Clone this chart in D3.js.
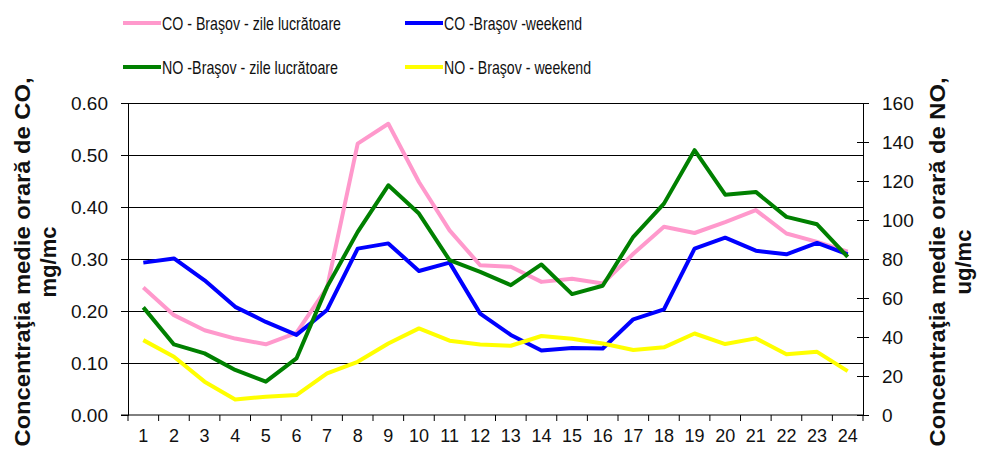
<!DOCTYPE html>
<html>
<head>
<meta charset="utf-8">
<script src="https://cdn.jsdelivr.net/npm/d3@7"></script>
<style>
  body { margin: 0; background: #fff; }
  text { font-family: "Liberation Sans", Arial, sans-serif; fill: #111; }
</style>
</head>
<body>
<div id="graph"></div>
<script>
// ore (1..24)
let hours = d3.range(1, 25)

// CO, mg/mc (axa stanga)
let coLucru = [0.245, 0.192, 0.163, 0.147, 0.136, 0.158, 0.245, 0.522, 0.560, 0.448, 0.355, 0.288,
               0.285, 0.256, 0.262, 0.253, 0.310, 0.362, 0.350, 0.371, 0.394, 0.349, 0.333, 0.314]
let coWeekend = [0.293, 0.301, 0.259, 0.208, 0.179, 0.154, 0.202, 0.320, 0.330, 0.277, 0.293, 0.195,
                 0.154, 0.124, 0.129, 0.128, 0.184, 0.203, 0.320, 0.341, 0.316, 0.309, 0.331, 0.309]

// NO, ug/mc (axa dreapta)
let noLucru = [55.2, 36.2, 31.6, 23.1, 17.1, 29.0, 65.7, 93.9, 117.8, 103.3, 79.4, 73.4,
               66.6, 77.2, 62.0, 66.3, 91.4, 108.4, 135.8, 113.0, 114.4, 101.6, 97.8, 81.1]
let noWeekend = [38.4, 29.9, 17.1, 8.0, 9.4, 10.2, 21.3, 27.3, 36.7, 44.4, 38.1, 36.2,
                 35.5, 40.5, 39.1, 36.7, 33.3, 34.7, 41.8, 36.4, 39.3, 31.2, 32.4, 22.5]

let leftTicks = [0, 0.1, 0.2, 0.3, 0.4, 0.5, 0.6]
let rightTicks = [0, 20, 40, 60, 80, 100, 120, 140, 160]

let series = [
  {name: "CO - Braşov - zile lucrătoare", values: coLucru, axis: "left", color: "#ff99cc"},
  {name: "CO -Braşov -weekend", values: coWeekend, axis: "left", color: "#0000ff"},
  {name: "NO -Braşov - zile lucrătoare", values: noLucru, axis: "right", color: "#008000"},
  {name: "NO - Braşov - weekend", values: noWeekend, axis: "right", color: "#ffff00"}
]

let W = 981, H = 450
let margin = {top: 103, right: 118, bottom: 35, left: 128},
  width = W - margin.left - margin.right,
  height = H - margin.top - margin.bottom

let svg = d3.select("#graph")
  .append("svg")
  .attr("width", W)
  .attr("height", H)

let g = svg.append("g")
  .attr("transform", "translate(" + margin.left + "," + margin.top + ")")

let x = d3.scaleBand()
  .domain(hours)
  .range([0, width])

let yL = d3.scaleLinear()
  .domain([0, 0.6])
  .range([height, 0])

let yR = d3.scaleLinear()
  .domain([0, 160])
  .range([height, 0])

// gridlines (dupa axa stanga)
g.append("g")
  .selectAll("line")
  .data(leftTicks.slice(1))
  .join("line")
  .attr("x1", 0)
  .attr("x2", width)
  .attr("y1", d => Math.round(yL(d)) + 0.5)
  .attr("y2", d => Math.round(yL(d)) + 0.5)
  .attr("stroke", "#000")
  .attr("stroke-width", 1)

// axa stanga
let axL = g.append("g")
  .call(d3.axisLeft(yL).tickValues(leftTicks).tickFormat(d3.format(".2f")).tickSize(7).tickPadding(13))
axL.selectAll("text").style("font-size", "19px").attr("fill", "#222")

// axa dreapta, tick-uri pe ambele parti
let axR = g.append("g")
  .attr("transform", "translate(" + width + ",0)")
  .call(d3.axisRight(yR).tickValues(rightTicks).tickSize(6).tickPadding(13))
axR.selectAll(".tick line").attr("x1", -6)
axR.selectAll("text").style("font-size", "19px").attr("fill", "#222")

// axa x, tick-uri intre categorii
let axX = g.append("g")
  .attr("transform", "translate(0," + height + ")")
  .call(d3.axisBottom(x).tickSize(0).tickPadding(14))
axX.select(".domain").attr("d", "M-7,0H" + width)
axX.selectAll("text").style("font-size", "18px").attr("fill", "#222")
axX.append("g")
  .selectAll("line")
  .data(d3.range(0, 25))
  .join("line")
  .attr("x1", d => d * x.bandwidth())
  .attr("x2", d => d * x.bandwidth())
  .attr("y1", 0)
  .attr("y2", 6)
  .attr("stroke", "#000")

svg.selectAll(".domain, .tick line").attr("stroke", "#000")

// linii
series.forEach(s => {
  let y = s.axis == "left" ? yL : yR
  let line = d3.line()
    .x((d, i) => x(hours[i]) + x.bandwidth() / 2)
    .y(d => y(d))
  g.append("path")
    .datum(s.values)
    .attr("d", line)
    .attr("fill", "none")
    .attr("stroke", s.color)
    .attr("stroke-width", 4)
    .attr("stroke-linejoin", "round")
})

// legenda
let legendPos = [
  {x: 123, y: 23, len: 179},
  {x: 405, y: 23, len: 138},
  {x: 123, y: 67, len: 176},
  {x: 405, y: 67, len: 147}
]
let leg = svg.append("g")
series.forEach((s, i) => {
  let p = legendPos[i]
  leg.append("line")
    .attr("x1", p.x).attr("x2", p.x + 38)
    .attr("y1", p.y).attr("y2", p.y)
    .attr("stroke", s.color)
    .attr("stroke-width", 4)
  leg.append("text")
    .attr("x", p.x + 39)
    .attr("y", p.y)
    .attr("dy", "0.35em")
    .attr("textLength", p.len)
    .attr("lengthAdjust", "spacingAndGlyphs")
    .style("font-family", "'Liberation Sans Narrow', 'Liberation Sans', Arial, sans-serif")
    .style("font-size", "19px")
    .text(s.name)
})

// titluri axe
function axisTitle(cx, cy, line1, line2) {
  let t = svg.append("g")
    .attr("transform", "translate(" + cx + "," + cy + ") rotate(-90)")
  t.append("text")
    .attr("text-anchor", "middle")
    .attr("textLength", 369)
    .attr("lengthAdjust", "spacingAndGlyphs")
    .style("font-size", "22px")
    .style("font-weight", "bold")
    .attr("fill", "#000")
    .text(line1)
  t.append("text")
    .attr("text-anchor", "middle")
    .attr("y", 26)
    .style("font-size", "22px")
    .style("font-weight", "bold")
    .attr("fill", "#000")
    .text(line2)
}
axisTitle(30, 262, "Concentraţia medie orară de CO,", "mg/mc")
axisTitle(945, 262, "Concentraţia medie orară de NO,", "ug/mc")
</script>
</body>
</html>
